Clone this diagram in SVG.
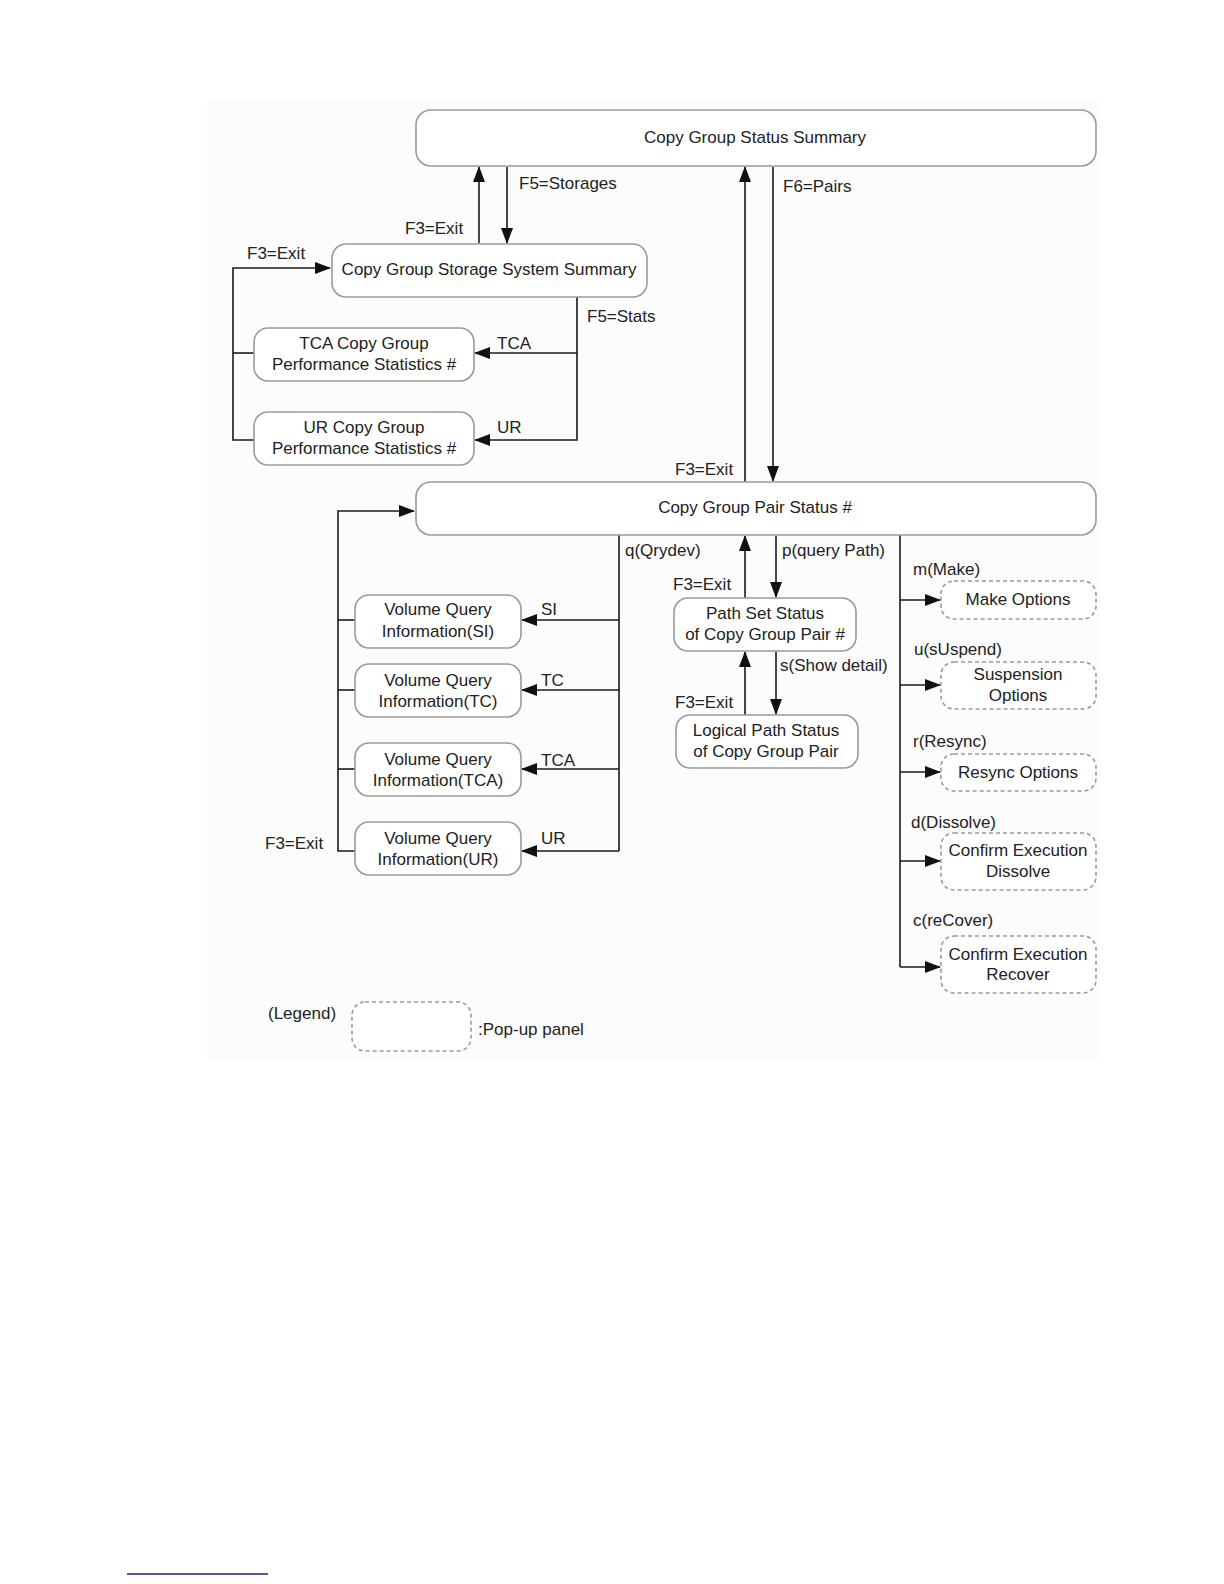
<svg xmlns="http://www.w3.org/2000/svg" width="1224" height="1584" viewBox="0 0 1224 1584">
<style>
text{font-family:"Liberation Sans",Arial,sans-serif;font-size:17px;fill:#222}
.c{text-anchor:middle}
.n{fill:#fff;stroke:#9a9a9a;stroke-width:1.6}
.p{fill:#fff;stroke:#9a9a9a;stroke-width:1.6;stroke-dasharray:4 3}
.l{fill:none;stroke:#1a1a1a;stroke-width:1.6}
.a{fill:none;stroke:#1a1a1a;stroke-width:1.6;marker-end:url(#ah)}
</style>
<defs>
<marker id="ah" markerWidth="16" markerHeight="12" refX="15" refY="6" orient="auto" markerUnits="userSpaceOnUse">
<path d="M0,0 L16,6 L0,12 Z" fill="#111"/>
</marker>
</defs>
<rect width="1224" height="1584" fill="#fff"/>
<rect x="207" y="100" width="893" height="960" fill="#fcfcfc"/>

<g id="connectors">
<line class="a" x1="479" y1="243" x2="479" y2="167"/>
<line class="a" x1="507" y1="167" x2="507" y2="243"/>
<polyline class="a" points="254,440 233,440 233,268 330,268"/>
<line class="l" x1="233" y1="353" x2="254" y2="353"/>
<polyline class="a" points="577,297 577,353 475,353"/>
<polyline class="a" points="577,353 577,440 475,440"/>
<line class="a" x1="745" y1="482" x2="745" y2="167"/>
<line class="a" x1="773" y1="167" x2="773" y2="481"/>
<polyline class="a" points="355,851 338,851 338,511 414,511"/>
<line class="l" x1="338" y1="620" x2="355" y2="620"/>
<line class="l" x1="338" y1="690" x2="355" y2="690"/>
<line class="l" x1="338" y1="769" x2="355" y2="769"/>
<line class="l" x1="619" y1="535" x2="619" y2="851"/>
<line class="a" x1="619" y1="620" x2="522" y2="620"/>
<line class="a" x1="619" y1="690" x2="522" y2="690"/>
<line class="a" x1="619" y1="769" x2="522" y2="769"/>
<line class="a" x1="619" y1="851" x2="522" y2="851"/>
<line class="a" x1="745" y1="598" x2="745" y2="536"/>
<line class="a" x1="776" y1="536" x2="776" y2="597"/>
<line class="a" x1="745" y1="715" x2="745" y2="652"/>
<line class="a" x1="776" y1="652" x2="776" y2="714"/>
<line class="l" x1="900" y1="535" x2="900" y2="967"/>
<line class="a" x1="900" y1="600" x2="940" y2="600"/>
<line class="a" x1="900" y1="685" x2="940" y2="685"/>
<line class="a" x1="900" y1="772" x2="940" y2="772"/>
<line class="a" x1="900" y1="861" x2="940" y2="861"/>
<line class="a" x1="900" y1="967" x2="940" y2="967"/>
</g>

<g id="labels">
<text x="519" y="189">F5=Storages</text>
<text x="405" y="234">F3=Exit</text>
<text x="247" y="259">F3=Exit</text>
<text x="587" y="322">F5=Stats</text>
<text x="497" y="349">TCA</text>
<text x="497" y="433">UR</text>
<text x="783" y="192">F6=Pairs</text>
<text x="675" y="475">F3=Exit</text>
<text x="625" y="556">q(Qrydev)</text>
<text x="782" y="556">p(query Path)</text>
<text x="673" y="590">F3=Exit</text>
<text x="780" y="671">s(Show detail)</text>
<text x="675" y="708">F3=Exit</text>
<text x="541" y="615">SI</text>
<text x="541" y="686">TC</text>
<text x="541" y="766">TCA</text>
<text x="541" y="844">UR</text>
<text x="265" y="849">F3=Exit</text>
<text x="913" y="575">m(Make)</text>
<text x="914" y="655">u(sUspend)</text>
<text x="913" y="747">r(Resync)</text>
<text x="911" y="828">d(Dissolve)</text>
<text x="913" y="926">c(reCover)</text>
</g>

<g id="n-status-summary">
<rect class="n" x="416" y="110" width="680" height="56" rx="15"/>
<text class="c" x="755" y="143">Copy Group Status Summary</text>
</g>
<g id="n-storage-summary">
<rect class="n" x="332" y="244" width="315" height="53" rx="14"/>
<text class="c" x="489" y="275">Copy Group Storage System Summary</text>
</g>
<g id="n-tca-stats">
<rect class="n" x="254" y="328" width="220" height="53" rx="14"/>
<text class="c" x="364" y="349">TCA Copy Group</text>
<text class="c" x="364" y="370">Performance Statistics #</text>
</g>
<g id="n-ur-stats">
<rect class="n" x="254" y="412" width="220" height="53" rx="14"/>
<text class="c" x="364" y="433">UR Copy Group</text>
<text class="c" x="364" y="454">Performance Statistics #</text>
</g>
<g id="n-pair-status">
<rect class="n" x="416" y="482" width="680" height="53" rx="15"/>
<text class="c" x="755" y="513">Copy Group Pair Status #</text>
</g>
<g id="n-vq-si">
<rect class="n" x="355" y="595" width="166" height="53" rx="14"/>
<text class="c" x="438" y="615">Volume Query</text>
<text class="c" x="438" y="637">Information(SI)</text>
</g>
<g id="n-vq-tc">
<rect class="n" x="355" y="664" width="166" height="53" rx="14"/>
<text class="c" x="438" y="686">Volume Query</text>
<text class="c" x="438" y="707">Information(TC)</text>
</g>
<g id="n-vq-tca">
<rect class="n" x="355" y="743" width="166" height="53" rx="14"/>
<text class="c" x="438" y="765">Volume Query</text>
<text class="c" x="438" y="786">Information(TCA)</text>
</g>
<g id="n-vq-ur">
<rect class="n" x="355" y="822" width="166" height="53" rx="14"/>
<text class="c" x="438" y="844">Volume Query</text>
<text class="c" x="438" y="865">Information(UR)</text>
</g>
<g id="n-path-set">
<rect class="n" x="674" y="598" width="182" height="53" rx="14"/>
<text class="c" x="765" y="619">Path Set Status</text>
<text class="c" x="765" y="640">of Copy Group Pair #</text>
</g>
<g id="n-logical-path">
<rect class="n" x="676" y="715" width="182" height="53" rx="14"/>
<text class="c" x="766" y="736">Logical Path Status</text>
<text class="c" x="766" y="757">of Copy Group Pair</text>
</g>
<g id="n-make">
<rect class="p" x="941" y="581" width="155" height="38" rx="13"/>
<text class="c" x="1018" y="605">Make Options</text>
</g>
<g id="n-suspend">
<rect class="p" x="941" y="662" width="155" height="47" rx="13"/>
<text class="c" x="1018" y="680">Suspension</text>
<text class="c" x="1018" y="701">Options</text>
</g>
<g id="n-resync">
<rect class="p" x="941" y="754" width="155" height="37" rx="13"/>
<text class="c" x="1018" y="778">Resync Options</text>
</g>
<g id="n-dissolve">
<rect class="p" x="941" y="833" width="155" height="57" rx="13"/>
<text class="c" x="1018" y="856">Confirm Execution</text>
<text class="c" x="1018" y="877">Dissolve</text>
</g>
<g id="n-recover">
<rect class="p" x="941" y="936" width="155" height="57" rx="13"/>
<text class="c" x="1018" y="960">Confirm Execution</text>
<text class="c" x="1018" y="980">Recover</text>
</g>
<g id="legend">
<text x="268" y="1019">(Legend)</text>
<rect class="p" x="352" y="1002" width="119" height="49" rx="13"/>
<text x="478" y="1035">:Pop-up panel</text>
</g>
<line x1="127" y1="1574" x2="268" y2="1574" stroke="#1a1a8a" stroke-width="1.5"/>
</svg>
